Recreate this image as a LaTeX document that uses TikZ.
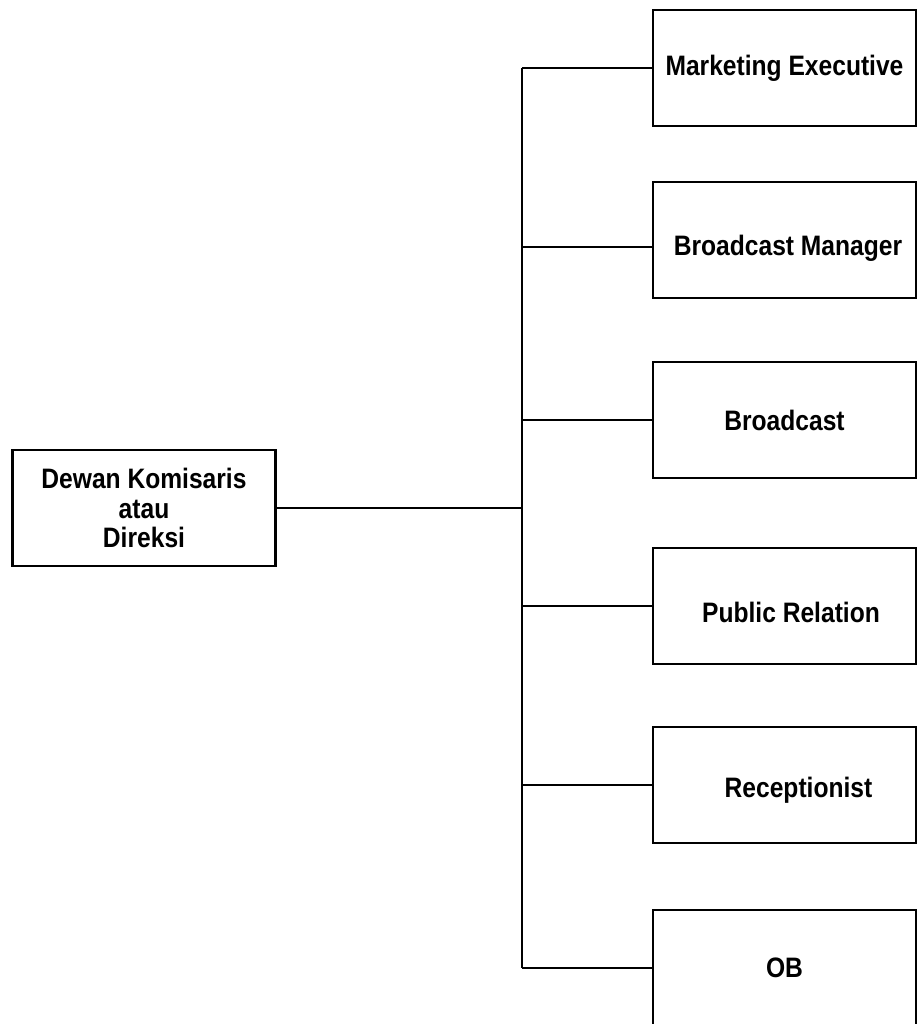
\documentclass[tikz,border=0pt]{standalone}
\usepackage{fontspec}
\setmainfont{Liberation Sans}[FakeStretch=0.875]
\usetikzlibrary{positioning}

\newcommand\unitfont{\bfseries\fontsize{8}{8.5}\selectfont}

\tikzset{
  unit/.style={draw,line width=0.6pt,minimum width=2.63cm,minimum height=1.16cm,
    inner sep=0pt,align=center,font=\unitfont},
  every label/.append style={font=\unitfont,inner sep=0pt},
}

\begin{document}
\begin{tikzpicture}[y=-1cm,line width=0.6pt]

\useasboundingbox (0,0) rectangle (9.17,10.24);

\node[unit] (dk) at (1.44,5.08) {Dewan Komisaris\\atau\\Direksi};

\node[unit] (me) at (7.845,0.68) {Marketing Executive};
\node[unit,label={[xshift=0.035cm,yshift=-0.08cm]center:Broadcast Manager}] (bm) at (7.845,2.40) {};
\node[unit] (bc) at (7.845,4.20) {Broadcast};
\node[unit,label={[xshift=0.065cm,yshift=-0.06cm]center:Public Relation}] (pr) at (7.845,6.06) {};
\node[unit,label={[xshift=0.14cm,yshift=-0.05cm]center:Receptionist}] (rc) at (7.845,7.85) {};
\node[unit] (ob) at (7.845,9.68) {OB};

\coordinate (trunk) at (5.22,0);

\draw (dk.east) -- (dk.east -| trunk);

\draw (trunk |- me.west) -- (trunk |- ob.west);

\draw (trunk |- me.west) -- (me.west);
\draw ([yshift=-0.07cm]bm.west -| trunk) -- ([yshift=-0.07cm]bm.west);
\draw (trunk |- bc.west) -- (bc.west);
\draw (trunk |- pr.west) -- (pr.west);
\draw (trunk |- rc.west) -- (rc.west);
\draw (trunk |- ob.west) -- (ob.west);

\end{tikzpicture}
\end{document}
